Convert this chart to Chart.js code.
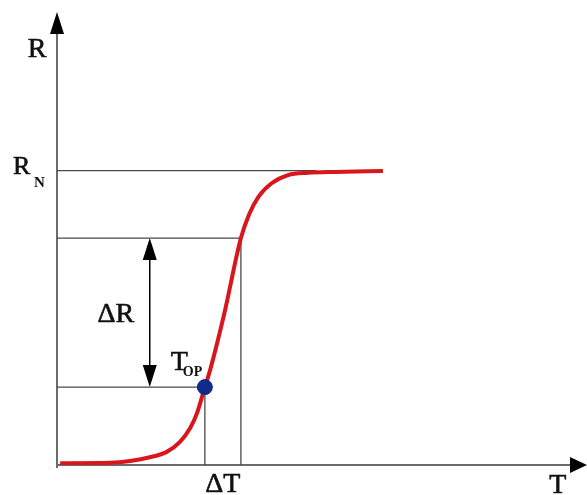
<!DOCTYPE html>
<html>
<head>
<meta charset="utf-8">
<script src="https://cdn.jsdelivr.net/npm/chart.js@4"></script>
<style>
  html, body { margin: 0; padding: 0; background: #fff; }
  #wrap { width: 587px; height: 495px; }
</style>
</head>
<body>
<div id="wrap"><canvas id="rt" width="587" height="495"></canvas></div>
<script>
// ── DATA (T and R in arbitrary units, 0..100) ──
const curveT = [0.6, 10.0, 13.8, 17.5, 20.7, 23.2, 25.1, 26.4, 27.9, 28.9, 31.5, 34.7, 36.2, 38.0, 40.5, 43.6, 47.4, 52.5, 61.5];
const curveR = [0.4, 0.5, 0.9, 1.7, 2.9, 5.1, 8.1, 11.4, 17.2, 21.0, 33.1, 50.1, 55.2, 59.2, 62.2, 64.0, 64.5, 64.7, 64.9];

const R_N = 65;             // normal-state resistance
const RN_LINE_END = 49;     // where the R_N guide meets the plateau
const OP = { t: 27.9, r: 17.2 };   // operating point T_OP
const HI = { t: 34.7, r: 50.1 };   // upper end of ΔR / ΔT
const DELTA_R_ARROW_T = 17.5;

const INK = '#111';
const AXIS = '#6b6b6b';
const GUIDE = '#4a4a4a';
const RED = '#d9161c';
const BLUE = '#122a8c';
const SERIF = "'Liberation Serif', 'DejaVu Serif', serif";

const curve = curveT.map((t, i) => ({ x: t, y: curveR[i] }));

function guide(points) {
  return {
    type: 'line', data: points, borderColor: GUIDE, borderWidth: 1.3,
    pointRadius: 0, tension: 0, fill: false, order: 3
  };
}

// ── AXES, ARROWS & LABELS ──
function arrowHead(ctx, x, y, dir, len, half) {
  ctx.beginPath();
  if (dir === 'up')    { ctx.moveTo(x, y); ctx.lineTo(x - half, y + len); ctx.lineTo(x + half, y + len); }
  if (dir === 'down')  { ctx.moveTo(x, y); ctx.lineTo(x - half, y - len); ctx.lineTo(x + half, y - len); }
  if (dir === 'right') { ctx.moveTo(x, y); ctx.lineTo(x - len, y - half); ctx.lineTo(x - len, y + half); }
  ctx.closePath();
  ctx.fill();
}

// slightly heavier text, like the scanned Times labels
function label(ctx, s, x, y) {
  ctx.fillText(s, x, y);
  ctx.strokeText(s, x, y);
}

const axesPlugin = {
  id: 'axesPlugin',
  beforeDatasetsDraw(chart) {
    const { ctx, chartArea: a, scales: { x, y } } = chart;
    const x0 = x.getPixelForValue(0), y0 = y.getPixelForValue(0);
    ctx.save();
    ctx.strokeStyle = AXIS; ctx.fillStyle = '#000'; ctx.lineWidth = 2;
    ctx.beginPath();
    ctx.moveTo(x0, y0 + 3); ctx.lineTo(x0, a.top + 10);
    ctx.moveTo(x0, y0); ctx.lineTo(a.right - 8, y0);
    ctx.stroke();
    arrowHead(ctx, x0, a.top, 'up', 22, 7);
    arrowHead(ctx, a.right, y0, 'right', 17, 8);

    // ΔR double arrow
    const ax = x.getPixelForValue(DELTA_R_ARROW_T);
    const yt = y.getPixelForValue(HI.r), yb = y.getPixelForValue(OP.r);
    ctx.strokeStyle = '#000'; ctx.lineWidth = 1.5;
    ctx.beginPath(); ctx.moveTo(ax, yt + 12); ctx.lineTo(ax, yb - 12); ctx.stroke();
    arrowHead(ctx, ax, yt, 'up', 22, 7);
    arrowHead(ctx, ax, yb, 'down', 22, 7);
    ctx.restore();
  },
  afterDraw(chart) {
    const { ctx, scales: { x, y } } = chart;
    const x0 = x.getPixelForValue(0), y0 = y.getPixelForValue(0);
    ctx.save();
    ctx.fillStyle = INK;
    ctx.strokeStyle = INK;
    ctx.lineWidth = 0.6;
    ctx.textBaseline = 'alphabetic';

    // R
    ctx.font = `28px ${SERIF}`;
    ctx.textAlign = 'center';
    label(ctx, 'R', x0 - 20, 57);

    // R_N
    const rnY = y.getPixelForValue(R_N);
    ctx.font = `26px ${SERIF}`;
    ctx.textAlign = 'left';
    label(ctx, 'R', 13, rnY + 3);
    ctx.font = `bold 15px ${SERIF}`;
    ctx.fillText('N', 34, rnY + 16);

    // ΔR
    ctx.font = `28px ${SERIF}`;
    ctx.textAlign = 'center';
    label(ctx, '\u0394R', x.getPixelForValue(DELTA_R_ARROW_T) - 34, 322);

    // T_OP
    const opX = x.getPixelForValue(OP.t), opY = y.getPixelForValue(OP.r);
    ctx.textAlign = 'left';
    ctx.font = `28px ${SERIF}`;
    label(ctx, 'T', opX - 34, opY - 17);
    ctx.font = `bold 14px ${SERIF}`;
    ctx.fillText('OP', opX - 22, opY - 11);

    // ΔT
    ctx.textAlign = 'center';
    ctx.font = `28px ${SERIF}`;
    label(ctx, '\u0394T', (opX + x.getPixelForValue(HI.t)) / 2, y0 + 27);

    // T
    label(ctx, 'T', x.getPixelForValue(94.5), y0 + 28);
    ctx.restore();
  }
};

new Chart(document.getElementById('rt'), {
  type: 'line',
  data: {
    datasets: [
      { type: 'scatter', data: [{ x: OP.t, y: OP.r }], backgroundColor: BLUE, borderColor: BLUE,
        pointRadius: 7.5, pointHoverRadius: 7.5, order: 0 },
      { data: curve, borderColor: RED, borderWidth: 4, pointRadius: 0, fill: false,
        cubicInterpolationMode: 'monotone', order: 1 },
      guide([{ x: 0, y: R_N }, { x: RN_LINE_END, y: R_N }]),
      guide([{ x: 0, y: HI.r }, { x: HI.t, y: HI.r }, { x: HI.t, y: 0 }]),
      guide([{ x: 0, y: OP.r }, { x: OP.t, y: OP.r }, { x: OP.t, y: 0 }])
    ]
  },
  options: {
    responsive: false,
    animation: false,
    layout: { autoPadding: false, padding: { left: 57, right: 0, top: 12, bottom: 30 } },
    scales: {
      x: { type: 'linear', min: 0, max: 100, display: false },
      y: { type: 'linear', min: 0, max: 100, display: false }
    },
    plugins: { legend: { display: false }, tooltip: { enabled: false } }
  },
  plugins: [axesPlugin]
});
</script>
</body>
</html>
